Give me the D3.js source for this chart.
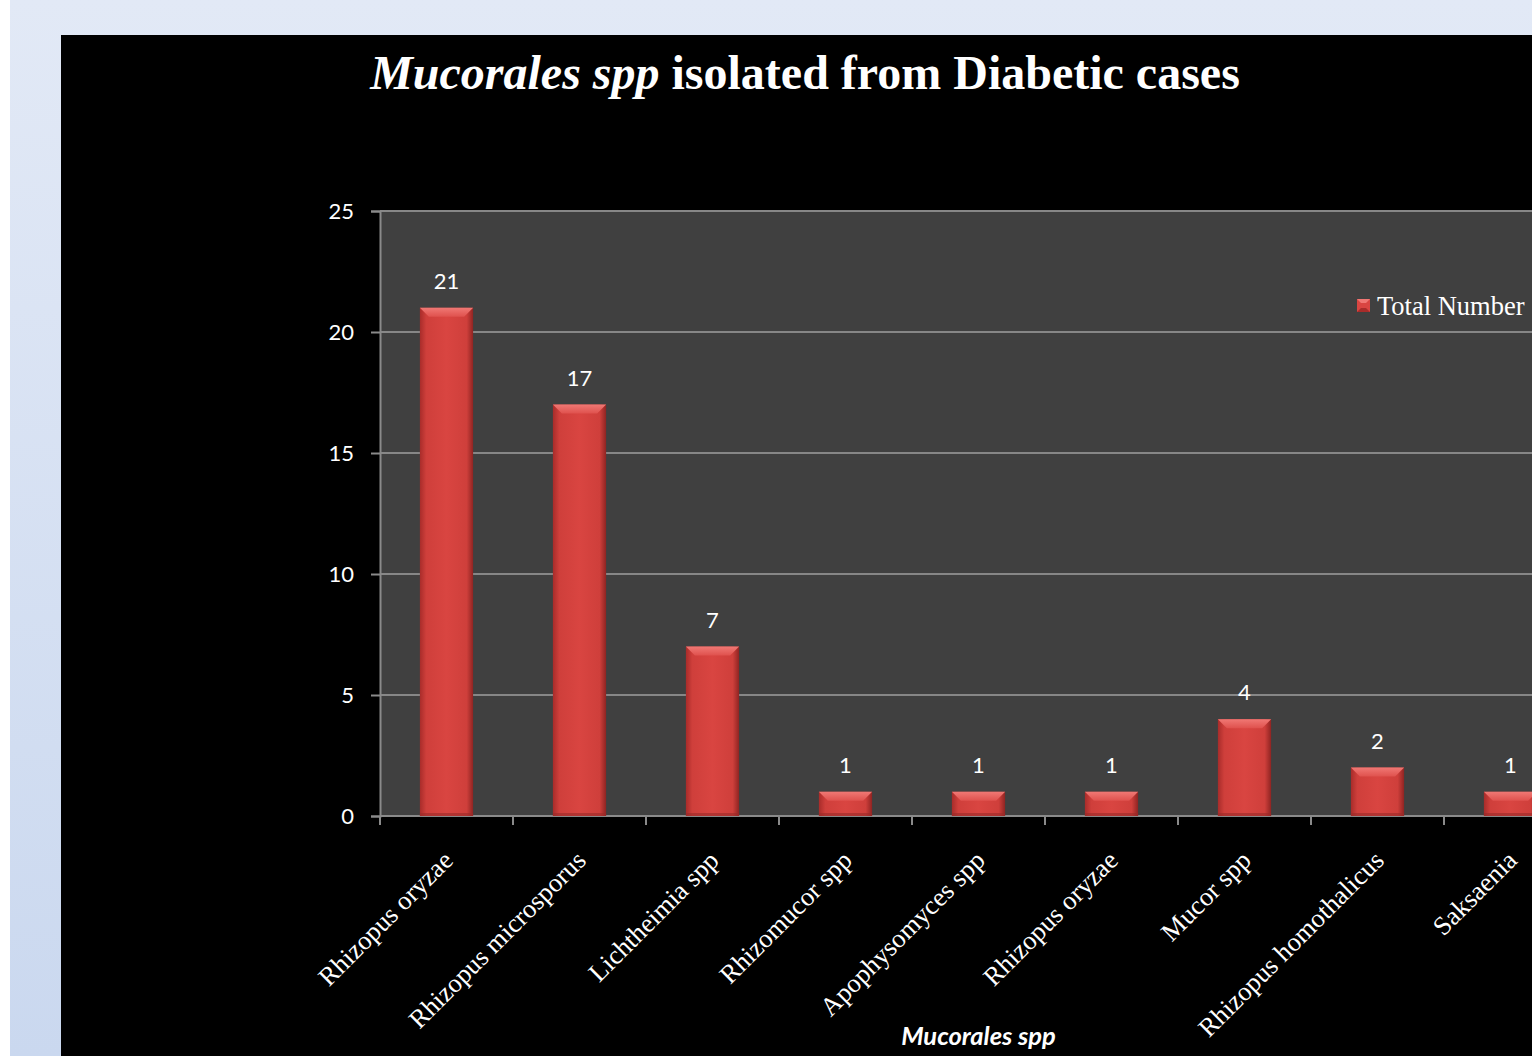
<!DOCTYPE html>
<html>
<head>
<meta charset="utf-8">
<script src="https://cdn.jsdelivr.net/npm/d3@7"></script>
<style>
  html, body { margin: 0; padding: 0; background: #fff; }
  svg { display: block; }
</style>
</head>
<body>
<div id="chart"></div>
<script>
var categories = ["Rhizopus oryzae", "Rhizopus microsporus", "Lichtheimia spp", "Rhizomucor spp",
                  "Apophysomyces spp", "Rhizopus oryzae ", "Mucor spp", "Rhizopus homothalicus", "Saksaenia"];
var totals = [21, 17, 7, 1, 1, 1, 4, 2, 1];
var yTicks = [0, 5, 10, 15, 20, 25];
var seriesName = "Total Number";

var W = 1532, H = 1056;
var plot = { left: 380, right: 1577, top: 211, bottom: 816 };

var svg = d3.select("#chart").append("svg")
    .attr("width", W)
    .attr("height", H);

var defs = svg.append("defs");

// slide background
var bg = defs.append("linearGradient").attr("id", "slideBg")
    .attr("x1", 0).attr("y1", 0).attr("x2", 0).attr("y2", 1);
bg.append("stop").attr("offset", "0%").attr("stop-color", "#e2e9f6");
bg.append("stop").attr("offset", "100%").attr("stop-color", "#cad8ef");

var barGrad = defs.append("linearGradient").attr("id", "barGrad")
    .attr("x1", 0).attr("y1", 0).attr("x2", 1).attr("y2", 0);
barGrad.append("stop").attr("offset", "0%").attr("stop-color", "#a82c2a");
barGrad.append("stop").attr("offset", "12%").attr("stop-color", "#cf3f3b");
barGrad.append("stop").attr("offset", "50%").attr("stop-color", "#d94541");
barGrad.append("stop").attr("offset", "88%").attr("stop-color", "#cf3f3b");
barGrad.append("stop").attr("offset", "100%").attr("stop-color", "#8f2422");

var bevelGrad = defs.append("linearGradient").attr("id", "bevelGrad")
    .attr("x1", 0).attr("y1", 0).attr("x2", 0).attr("y2", 1);
bevelGrad.append("stop").attr("offset", "0%").attr("stop-color", "#f07874");
bevelGrad.append("stop").attr("offset", "100%").attr("stop-color", "#df514d");

svg.append("rect").attr("x", 0).attr("y", 0).attr("width", W).attr("height", H).attr("fill", "#fff");
svg.append("rect").attr("x", 10).attr("y", 0).attr("width", W - 10).attr("height", H).attr("fill", "url(#slideBg)");
svg.append("rect").attr("x", 61).attr("y", 35).attr("width", W - 61).attr("height", H - 35).attr("fill", "#000");

// title
var title = svg.append("text")
    .attr("x", 805).attr("y", 89)
    .attr("text-anchor", "middle")
    .attr("font-family", "Liberation Serif, 'Times New Roman', serif")
    .attr("font-size", 48)
    .attr("font-weight", "bold")
    .attr("fill", "#fff");
title.append("tspan").attr("font-style", "italic").text("Mucorales spp");
title.append("tspan").text(" isolated from Diabetic cases");

var x = d3.scaleBand()
    .domain(d3.range(categories.length))
    .range([plot.left, plot.right])
    .paddingInner(0.6)
    .paddingOuter(0.3);

var step = x.step();

var y = d3.scaleLinear()
    .domain([0, 25])
    .range([plot.bottom, plot.top]);

var g = svg.append("g");

// plot area
g.append("rect")
    .attr("x", plot.left).attr("y", plot.top)
    .attr("width", plot.right - plot.left).attr("height", plot.bottom - plot.top)
    .attr("fill", "#404040");

// gridlines
g.selectAll(".grid").data(yTicks.filter(function(d){ return d > 0; }))
    .enter().append("line")
    .attr("x1", plot.left).attr("x2", plot.right)
    .attr("y1", function(d){ return y(d); }).attr("y2", function(d){ return y(d); })
    .attr("stroke", "#878787").attr("stroke-width", 2);

// y axis
var yAxis = g.append("g")
    .attr("transform", "translate(" + plot.left + ",0)")
    .call(d3.axisLeft(y).tickValues(yTicks).tickSize(9).tickPadding(17));
yAxis.select(".domain").attr("stroke", "#8a8a8a").attr("stroke-width", 2);
yAxis.selectAll(".tick line").attr("stroke", "#8a8a8a").attr("stroke-width", 2);
yAxis.selectAll(".tick text")
    .attr("fill", "#fff")
    .attr("font-family", "Lato, 'Open Sans', sans-serif")
    .attr("font-size", 22);

// x axis: ticks between categories
var xTickPos = d3.range(categories.length + 1).map(function(i){ return plot.left + i * step; });
g.append("line")
    .attr("x1", plot.left).attr("x2", plot.right)
    .attr("y1", plot.bottom).attr("y2", plot.bottom)
    .attr("stroke", "#8a8a8a").attr("stroke-width", 2);
g.selectAll(".xtick").data(xTickPos)
    .enter().append("line")
    .attr("x1", function(d){ return d; }).attr("x2", function(d){ return d; })
    .attr("y1", plot.bottom).attr("y2", plot.bottom + 9)
    .attr("stroke", "#8a8a8a").attr("stroke-width", 2);

// bars
var bars = g.selectAll(".bar").data(totals)
    .enter().append("g")
    .attr("class", "bar");

var bw = x.bandwidth();
var bev = 9;

bars.append("rect")
    .attr("x", function(d, i){ return x(i); })
    .attr("y", function(d){ return y(d); })
    .attr("width", bw)
    .attr("height", function(d){ return y(0) - y(d); })
    .attr("fill", "url(#barGrad)");

bars.append("path")
    .attr("d", function(d, i){
        var x0 = x(i), y0 = y(d);
        return "M" + x0 + "," + y0 + "L" + (x0 + bw) + "," + y0 +
            "L" + (x0 + bw - bev) + "," + (y0 + bev) + "L" + (x0 + bev) + "," + (y0 + bev) + "Z";
    })
    .attr("fill", "url(#bevelGrad)");

bars.append("rect")
    .attr("x", function(d, i){ return x(i); })
    .attr("y", function(d){ return y(0) - 3; })
    .attr("width", bw).attr("height", 3)
    .attr("fill", "#9a2a28").attr("opacity", 0.6);

// data labels
g.selectAll(".label").data(totals)
    .enter().append("text")
    .attr("x", function(d, i){ return x(i) + bw / 2; })
    .attr("y", function(d){ return y(d) - 19; })
    .attr("text-anchor", "middle")
    .attr("fill", "#fff")
    .attr("font-family", "Lato, 'Open Sans', sans-serif")
    .attr("font-size", 22)
    .text(function(d){ return d; });

// category labels
g.selectAll(".cat").data(categories)
    .enter().append("text")
    .attr("transform", function(d, i){
        return "translate(" + (x(i) + bw / 2 + 8) + "," + (plot.bottom + 46) + ") rotate(-45)";
    })
    .attr("text-anchor", "end")
    .attr("fill", "#fff")
    .attr("font-family", "Liberation Serif, 'Times New Roman', serif")
    .attr("font-size", 26.5)
    .text(function(d){ return d.trim(); });

// axis title
svg.append("text")
    .attr("x", (plot.left + plot.right) / 2)
    .attr("y", 1045)
    .attr("text-anchor", "middle")
    .attr("fill", "#fff")
    .attr("font-family", "Lato, 'Open Sans', sans-serif")
    .attr("font-weight", "bold")
    .attr("font-style", "italic")
    .attr("font-size", 25.5)
    .text("Mucorales spp");

// legend
var legend = svg.append("g").attr("transform", "translate(1357,299)");
legend.append("rect").attr("width", 13).attr("height", 13).attr("fill", "#d94541");
legend.append("path").attr("d", "M0,0L13,0L9,4L4,4Z").attr("fill", "#f07874");
legend.append("path").attr("d", "M0,13L13,13L9,9L4,9Z").attr("fill", "#a82c2a");
legend.append("text")
    .attr("x", 20).attr("y", 16)
    .attr("fill", "#fff")
    .attr("font-family", "Liberation Serif, 'Times New Roman', serif")
    .attr("font-size", 26.5)
    .text(seriesName);
</script>
</body>
</html>
